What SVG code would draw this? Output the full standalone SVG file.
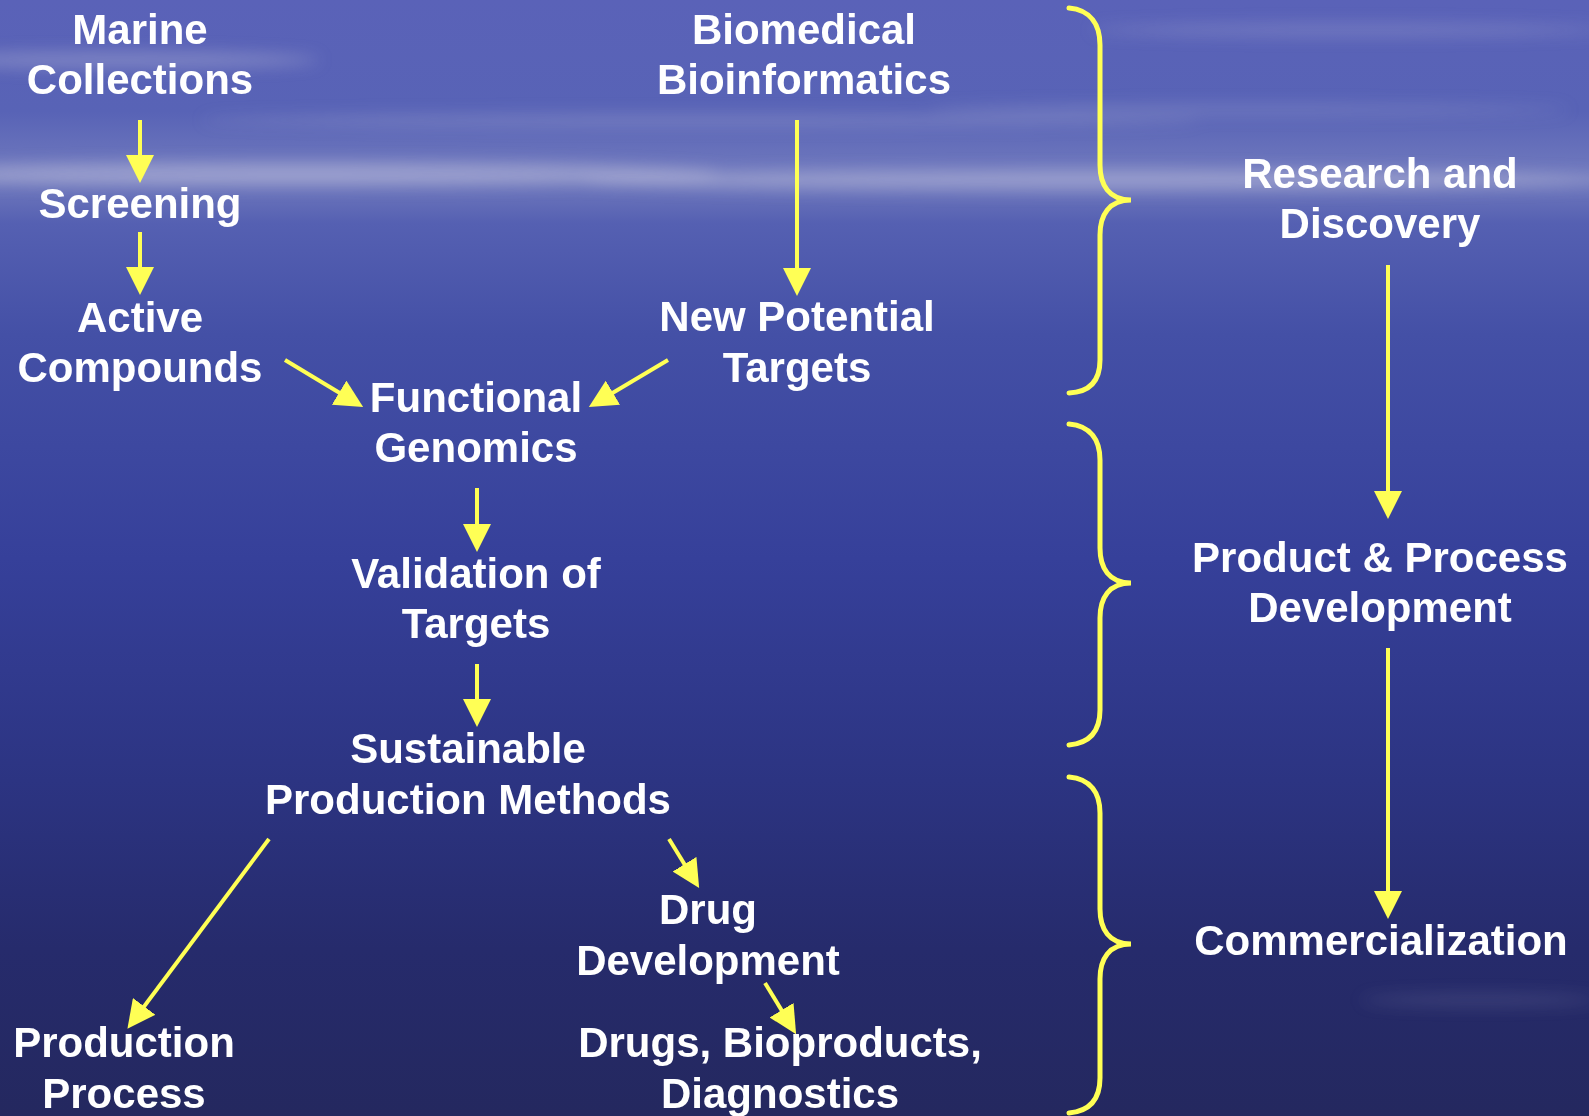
<svg xmlns="http://www.w3.org/2000/svg" width="1589" height="1116" viewBox="0 0 1589 1116">
<defs>
<linearGradient id="sea" x1="0" y1="0" x2="0" y2="1">
<stop offset="0" stop-color="#5a62b8"/>
<stop offset="0.1" stop-color="#5863b6"/>
<stop offset="0.16" stop-color="#727bbe"/>
<stop offset="0.2" stop-color="#5560b2"/>
<stop offset="0.3" stop-color="#4450a6"/>
<stop offset="0.5" stop-color="#36409a"/>
<stop offset="0.7" stop-color="#2c3482"/>
<stop offset="0.85" stop-color="#262b6c"/>
<stop offset="1" stop-color="#24285f"/>
</linearGradient>
<filter id="blur" x="-20%" y="-200%" width="140%" height="500%"><feGaussianBlur stdDeviation="8"/></filter>
<marker id="ah" markerUnits="userSpaceOnUse" markerWidth="28" markerHeight="28" refX="22" refY="14" orient="auto" viewBox="0 0 28 28">
<path d="M0,0 L28,14 L0,28 z" fill="#ffff55"/>
</marker>
<style>
.t{font-family:"Liberation Sans",Arial,sans-serif;font-weight:bold;font-size:42px;fill:#ffffff;text-anchor:middle}
.c{stroke:#ffff55;stroke-width:4;fill:none}
.b{stroke:#ffff55;stroke-width:5;fill:none;stroke-linecap:round}
</style>
</defs>
<g id="background">
<rect width="1589" height="1116" fill="url(#sea)"/>
<g filter="url(#blur)" fill="#c8c8e0">
<ellipse cx="300" cy="174" rx="420" ry="11" opacity="0.5"/>
<ellipse cx="1100" cy="180" rx="520" ry="10" opacity="0.45"/>
<ellipse cx="120" cy="60" rx="200" ry="8" opacity="0.35"/>
<ellipse cx="700" cy="120" rx="500" ry="6" opacity="0.25"/>
<ellipse cx="1350" cy="30" rx="260" ry="6" opacity="0.25"/>
<ellipse cx="1250" cy="110" rx="320" ry="5" opacity="0.25"/>
<ellipse cx="1480" cy="1000" rx="120" ry="6" opacity="0.15"/>
</g>
</g>
<g id="connectors">
<line class="c" x1="140" y1="120" x2="140" y2="177" marker-end="url(#ah)"/>
<line class="c" x1="140" y1="232" x2="140" y2="289" marker-end="url(#ah)"/>
<line class="c" x1="285" y1="360" x2="358" y2="404" marker-end="url(#ah)"/>
<line class="c" x1="668" y1="360" x2="594" y2="404" marker-end="url(#ah)"/>
<line class="c" x1="797" y1="120" x2="797" y2="290" marker-end="url(#ah)"/>
<line class="c" x1="477" y1="488" x2="477" y2="546" marker-end="url(#ah)"/>
<line class="c" x1="477" y1="664" x2="477" y2="721" marker-end="url(#ah)"/>
<line class="c" x1="269" y1="839" x2="131" y2="1024" marker-end="url(#ah)"/>
<line class="c" x1="669" y1="839" x2="696" y2="883" marker-end="url(#ah)"/>
<line class="c" x1="765" y1="983" x2="793" y2="1029" marker-end="url(#ah)"/>
<line class="c" x1="1388" y1="265" x2="1388" y2="513" marker-end="url(#ah)"/>
<line class="c" x1="1388" y1="648" x2="1388" y2="913" marker-end="url(#ah)"/>
</g>
<g id="braces">
<path class="b" d="M1069,8 C1091,10 1100,25 1100,45 L1100,165 C1100,185 1109,200 1131,200 C1109,200 1100,215 1100,235 L1100,360 C1100,380 1091,392 1069,393"/>
<path class="b" d="M1069,424 C1091,426 1100,440 1100,460 L1100,548 C1100,568 1109,583 1131,583 C1109,583 1100,598 1100,618 L1100,710 C1100,730 1091,743 1069,745"/>
<path class="b" d="M1069,777 C1091,779 1100,793 1100,813 L1100,909 C1100,929 1109,944 1131,944 C1109,944 1100,959 1100,979 L1100,1078 C1100,1098 1091,1111 1069,1113"/>
</g>
<g id="marine-collections"><text class="t" x="140" y="44">Marine</text><text class="t" x="140" y="94">Collections</text></g>
<g id="screening"><text class="t" x="140" y="218">Screening</text></g>
<g id="active-compounds"><text class="t" x="140" y="332">Active</text><text class="t" x="140" y="382">Compounds</text></g>
<g id="biomedical-bioinformatics"><text class="t" x="804" y="44">Biomedical</text><text class="t" x="804" y="94">Bioinformatics</text></g>
<g id="new-potential-targets"><text class="t" x="797" y="331">New Potential</text><text class="t" x="797" y="382">Targets</text></g>
<g id="functional-genomics"><text class="t" x="476" y="412">Functional</text><text class="t" x="476" y="462">Genomics</text></g>
<g id="validation-of-targets"><text class="t" x="476" y="588">Validation of</text><text class="t" x="476" y="638">Targets</text></g>
<g id="sustainable-production-methods"><text class="t" x="468" y="763">Sustainable</text><text class="t" x="468" y="814">Production Methods</text></g>
<g id="production-process"><text class="t" x="124" y="1057">Production</text><text class="t" x="124" y="1108">Process</text></g>
<g id="drug-development"><text class="t" x="708" y="924">Drug</text><text class="t" x="708" y="975">Development</text></g>
<g id="drugs-bioproducts-diagnostics"><text class="t" x="780" y="1057">Drugs, Bioproducts,</text><text class="t" x="780" y="1108">Diagnostics</text></g>
<g id="research-and-discovery"><text class="t" x="1380" y="188">Research and</text><text class="t" x="1380" y="238">Discovery</text></g>
<g id="product-process-development"><text class="t" x="1380" y="572">Product &amp; Process</text><text class="t" x="1380" y="622">Development</text></g>
<g id="commercialization"><text class="t" x="1381" y="955">Commercialization</text></g>
</svg>
